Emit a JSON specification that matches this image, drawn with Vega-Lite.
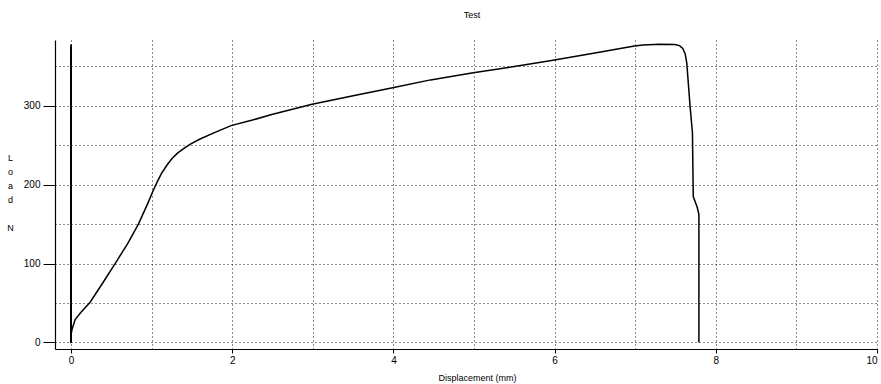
{
  "$schema": "https://vega.github.io/schema/vega-lite/v6.json",
  "autosize": {"type": "none"},
  "width": 822,
  "height": 309,
  "padding": {"left": 55, "top": 40, "right": 4, "bottom": 35},
  "background": "white",
  "config": {
    "view": {"stroke": null},
    "font": "Liberation Sans",
    "axis": {"labelFont": "Liberation Sans", "titleFont": "Liberation Sans"}
  },
  "title": {"text": "Test", "fontSize": 9, "fontWeight": "normal", "font": "Liberation Sans", "anchor": "middle", "dx": 6, "offset": 20, "color": "black"},
  "data": {"values": [
    {"i": 0, "d": 0, "load": 0},
    {"i": 1, "d": 0.0, "load": 10},
    {"i": 2, "d": 0.01, "load": 16},
    {"i": 3, "d": 0.05, "load": 29},
    {"i": 4, "d": 0.12, "load": 38},
    {"i": 5, "d": 0.236, "load": 51},
    {"i": 6, "d": 0.39, "load": 75},
    {"i": 7, "d": 0.546, "load": 100},
    {"i": 8, "d": 0.7, "load": 125},
    {"i": 9, "d": 0.835, "load": 150},
    {"i": 10, "d": 0.95, "load": 176},
    {"i": 11, "d": 1.02, "load": 193},
    {"i": 12, "d": 1.07, "load": 204},
    {"i": 13, "d": 1.12, "load": 214},
    {"i": 14, "d": 1.19, "load": 225},
    {"i": 15, "d": 1.25, "load": 233},
    {"i": 16, "d": 1.32, "load": 240},
    {"i": 17, "d": 1.4, "load": 246},
    {"i": 18, "d": 1.48, "load": 251.5},
    {"i": 19, "d": 1.6, "load": 258},
    {"i": 20, "d": 1.8, "load": 267},
    {"i": 21, "d": 1.985, "load": 275},
    {"i": 22, "d": 2.25, "load": 282},
    {"i": 23, "d": 2.49, "load": 289},
    {"i": 24, "d": 2.99, "load": 302},
    {"i": 25, "d": 3.5, "load": 313},
    {"i": 26, "d": 3.99, "load": 323},
    {"i": 27, "d": 4.46, "load": 333},
    {"i": 28, "d": 4.99, "load": 342},
    {"i": 29, "d": 5.5, "load": 350},
    {"i": 30, "d": 5.98, "load": 358},
    {"i": 31, "d": 6.5, "load": 367},
    {"i": 32, "d": 6.99, "load": 376},
    {"i": 33, "d": 7.1, "load": 377.3},
    {"i": 34, "d": 7.3, "load": 378.3},
    {"i": 35, "d": 7.49, "load": 378},
    {"i": 36, "d": 7.55, "load": 376.5},
    {"i": 37, "d": 7.59, "load": 373},
    {"i": 38, "d": 7.62, "load": 366},
    {"i": 39, "d": 7.64, "load": 354},
    {"i": 40, "d": 7.68, "load": 300},
    {"i": 41, "d": 7.71, "load": 266},
    {"i": 42, "d": 7.72, "load": 185},
    {"i": 43, "d": 7.745, "load": 178},
    {"i": 44, "d": 7.77, "load": 171},
    {"i": 45, "d": 7.79, "load": 162},
    {"i": 46, "d": 7.79, "load": 0}
  ]},
  "encoding": {
    "x": {
      "field": "d", "type": "quantitative",
      "scale": {"domain": [-0.2, 10], "nice": false, "zero": false},
      "axis": {
        "values": [0, 1, 2, 3, 4, 5, 6, 7, 8, 9, 10],
        "labelExpr": "datum.value % 2 == 0 ? datum.label : ''",
        "title": "Displacement (mm)",
        "titleFontSize": 9, "titleFontWeight": "normal", "titleColor": "black",
        "titleX": 422, "titleY": 28, "titleBaseline": "middle", "titleAlign": "center",
        "labelFontSize": 10, "labelColor": "black", "labelPadding": 2,
        "domainColor": "black", "domainWidth": 1.2,
        "tickColor": {"condition": {"test": "datum.value % 2 == 0", "value": "black"}, "value": "transparent"},
        "tickSize": 4, "tickWidth": 1,
        "grid": true, "gridColor": "black", "gridDash": [1, 3], "gridWidth": 1, "gridOpacity": 0.9
      }
    },
    "y": {
      "field": "load", "type": "quantitative",
      "scale": {"domain": [-8.4, 383.6], "nice": false, "zero": false},
      "axis": {
        "values": [0, 50, 100, 150, 200, 250, 300, 350],
        "labelExpr": "datum.value % 100 == 0 ? datum.label : ''",
        "title": ["L", "o", "a", "d", "\u200b", "N"],
        "titleAngle": 0, "titleFontSize": 9, "titleFontWeight": "normal", "titleColor": "black",
        "titleLineHeight": 14, "titleX": -45, "titleY": 113, "titleBaseline": "top", "titleAlign": "center",
        "labelFontSize": 10, "labelColor": "black", "labelPadding": 3,
        "domainColor": "black", "domainWidth": 1.2,
        "tickColor": {"condition": {"test": "datum.value % 100 == 0", "value": "black"}, "value": "transparent"},
        "tickSize": 12, "tickWidth": 1,
        "grid": true, "gridColor": "black", "gridDash": [1, 3], "gridWidth": 1, "gridOpacity": 0.9
      }
    }
  },
  "layer": [
    {"mark": {"type": "rule", "color": "#555555", "strokeWidth": 1}, "encoding": {"y": {"datum": 0}}},
    {"mark": {"type": "rule", "color": "black", "strokeWidth": 1}, "encoding": {"x": {"datum": 0}}},
    {"mark": {"type": "line", "color": "black", "strokeWidth": 1.5}, "encoding": {"order": {"field": "i", "type": "quantitative"}}}
  ]
}
